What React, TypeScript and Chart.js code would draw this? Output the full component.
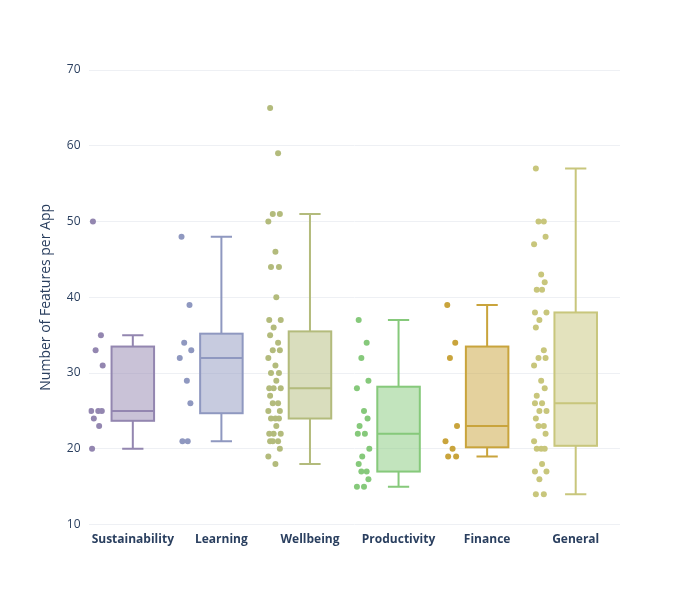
import React, { useEffect, useRef } from "react";
import { Chart, registerables } from "chart.js";

Chart.register(...registerables);

const categories = ["Sustainability", "Learning", "Wellbeing", "Productivity", "Finance", "General"];
const colors = ["#9386b0", "#8f98c0", "#b3bb7c", "#86c97b", "#c9a43c", "#c8c67c"];

// [min, q1, median, q3, max]
const stats = [
  [20, 23.7, 25, 33.5, 35],
  [21, 24.7, 32, 35.2, 48],
  [18, 24, 28, 35.5, 51],
  [15, 17, 22, 28.2, 37],
  [19, 20.2, 23, 33.5, 39],
  [14, 20.4, 26, 38, 57],
];

const sustainability = [50, 35, 33, 31, 25, 25, 25, 24, 23, 20];
const learning = [48, 39, 34, 33, 32, 29, 26, 21, 21];
const wellbeing = [65, 59, 51, 51, 50, 46, 44, 44, 40, 37, 37, 36, 35, 34, 33, 33, 32, 31, 30, 30, 29, 28, 28, 28, 27, 26, 26, 25, 25, 24, 24, 24, 23, 22, 22, 22, 21, 21, 21, 20, 19, 18];
const productivity = [37, 34, 32, 29, 28, 25, 24, 23, 22, 22, 20, 19, 18, 17, 17, 16, 15, 15];
const finance = [39, 34, 32, 23, 21, 20, 19, 19];
const general = [57, 50, 50, 48, 47, 43, 42, 41, 41, 38, 38, 37, 36, 33, 32, 32, 31, 29, 28, 27, 26, 26, 25, 25, 24, 23, 23, 22, 21, 20, 20, 20, 18, 17, 17, 16, 14, 14];
const points = [sustainability, learning, wellbeing, productivity, finance, general];

const jitter = [-0.05, 0.04, -0.02, 0.06, -0.07, 0.01, 0.05, -0.04, 0.02, -0.06, 0.07, -0.01];

const hexA = (h: string, a: number) => {
  const n = parseInt(h.slice(1), 16);
  return `rgba(${n >> 16},${(n >> 8) & 255},${n & 255},${a})`;
};

const boxPlugin = {
  id: "boxes",
  beforeDatasetsDraw(chart: any) {
    const { ctx, scales } = chart;
    const x = scales.x, y = scales.y;
    const half = 0.24;
    stats.forEach((s, i) => {
      const [mn, q1, md, q3, mx] = s.map((v) => y.getPixelForValue(v));
      const l = x.getPixelForValue(i - half), r = x.getPixelForValue(i + half);
      const c = x.getPixelForValue(i);
      const wl = x.getPixelForValue(i - half / 2), wr = x.getPixelForValue(i + half / 2);
      ctx.save();
      ctx.strokeStyle = colors[i];
      ctx.lineWidth = 2;
      ctx.fillStyle = hexA(colors[i], 0.5);
      ctx.fillRect(l, q3, r - l, q1 - q3);
      ctx.strokeRect(l, q3, r - l, q1 - q3);
      ctx.beginPath();
      ctx.moveTo(l, md); ctx.lineTo(r, md);
      ctx.moveTo(c, q3); ctx.lineTo(c, mx);
      ctx.moveTo(wl, mx); ctx.lineTo(wr, mx);
      ctx.moveTo(c, q1); ctx.lineTo(c, mn);
      ctx.moveTo(wl, mn); ctx.lineTo(wr, mn);
      ctx.stroke();
      ctx.restore();
    });
  },
};

export default function App() {
  const ref = useRef<HTMLCanvasElement>(null);
  useEffect(() => {
    document.body.style.margin = "0";
    if (!ref.current) return;
    const chart = new Chart(ref.current, {
      type: "scatter",
      data: {
        datasets: points.map((arr, i) => ({
          label: categories[i],
          data: arr.map((v, k) => ({ x: i - 0.4 + jitter[k % jitter.length], y: v })),
          backgroundColor: colors[i],
          borderWidth: 0,
          pointRadius: 3,
        })),
      },
      options: {
        animation: false,
        responsive: false,
        layout: { padding: { left: 34, right: 80, top: 70, bottom: 53 } },
        plugins: { legend: { display: false }, tooltip: { enabled: false } },
        scales: {
          x: {
            type: "linear",
            min: -0.5,
            max: 5.5,
            grid: { display: false },
            border: { display: false },
            afterBuildTicks: (axis: any) => {
              axis.ticks = categories.map((_, i) => ({ value: i }));
            },
            ticks: {
              callback: (v: any) => categories[v as number] ?? "",
              color: "#2a3f5f",
              font: { family: "Open Sans", size: 12, weight: "bold" },
              maxRotation: 0,
              padding: 0,
            },
          },
          y: {
            min: 10,
            max: 70,
            ticks: { stepSize: 10, color: "#2a3f5f", font: { family: "Open Sans", size: 12 }, padding: 8 },
            grid: { color: "#eef0f4", drawTicks: false },
            border: { display: false },
            title: { display: true, text: "Number of Features per App", color: "#2a3f5f", font: { family: "Open Sans", size: 14 } },
          },
        },
      },
      plugins: [boxPlugin],
    });
    return () => chart.destroy();
  }, []);
  return <canvas ref={ref} width={700} height={600} />;
}
